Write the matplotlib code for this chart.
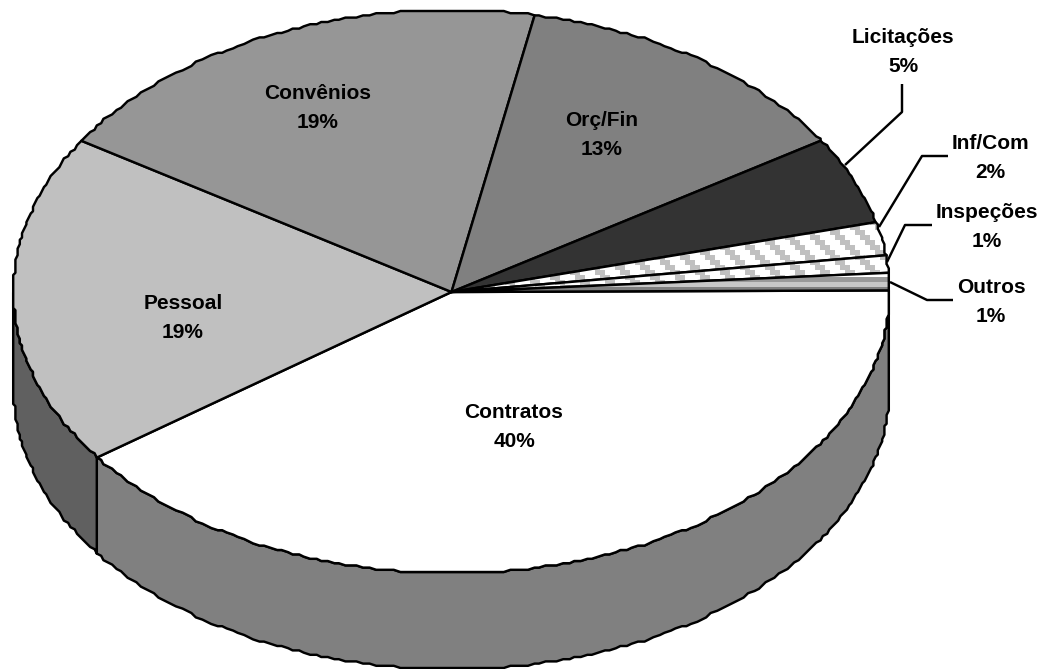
import matplotlib
matplotlib.use("Agg")
import matplotlib.pyplot as plt
from matplotlib.patches import Polygon
import numpy as np

plt.rcParams['font.family'] = ['Liberation Sans', 'DejaVu Sans']

labels = ["Contratos", "Pessoal", "Convênios", "Orç/Fin", "Licitações", "Inf/Com", "Inspeções", "Outros"]
values = [40, 19, 19, 13, 5, 2, 1, 1]

top_colors = ['#ffffff', '#c0c0c0', '#969696', '#808080', '#333333', 'bands', 'bands', 'stripes']
side_colors = ['#808080', '#606060', '#4b4b4b', '#404040', '#1a1a1a', '#808080', '#808080', '#808080']

label_pos = [(514, 427), (183, 318), (318, 108), (602, 135), (903, 52), (990, 158), (987, 227), (991, 302)]
leaders = {
    "Licitações": [(902, 84), (902, 112), (845, 165)],
    "Inf/Com": [(948, 156), (922, 156), (879, 227)],
    "Inspeções": [(932, 225), (905, 225), (887, 262)],
    "Outros": [(953, 300), (927, 300), (890, 282)],
}

W, H = 1051, 669
cx, cy = 451.5, 291.5
rx, ry = 438, 281.5
depth = 96
grain = 2.2   # the rim is drawn slightly stepped, like a low resolution export
line_w = 1.75


def rim(a0, a1, dy=0):
    # points along the ellipse between two angles (degrees, clockwise from east)
    n0 = int(np.ceil(a0 / 0.8))
    n1 = int(np.floor(a1 / 0.8))
    ang = [a0] + [k * 0.8 for k in range(n0, n1 + 1) if a0 < k * 0.8 < a1] + [a1]
    ang = np.radians(ang)
    x = cx + rx * np.cos(ang)
    y = cy + ry * np.sin(ang)
    x = np.round(x / grain) * grain
    y = np.round(y / grain) * grain + dy
    return np.column_stack([x, y])


yy, xx = np.mgrid[0:H, 0:W]
bands = np.ones((H, W))
bands[((xx // 5 - yy // 5) % 5) < 2] = 0.753
stripes = np.ones((H, W))
stripes[(yy >= 277) & (yy < 282)] = 0.6
stripes[(yy >= 282) & (yy < 287)] = 0.78
stripes[(yy >= 287) & (yy < 292)] = 0.5
patterns = {'bands': bands, 'stripes': stripes}

fig = plt.figure(figsize=(W / 100, H / 100), dpi=100)
ax = fig.add_axes([0, 0, 1, 1])

edges = np.cumsum([0] + values) / sum(values) * 360.0
z = 1

# side wall, only the front half of the disc shows
for i in range(len(values)):
    a0, a1 = edges[i], min(edges[i + 1], 180)
    if a0 >= 180:
        continue
    upper = rim(a0, a1)
    lower = rim(a0, a1, depth)
    ax.add_patch(Polygon(np.vstack([upper, lower[::-1]]), closed=True, facecolor=side_colors[i],
                         edgecolor='black', linewidth=line_w, joinstyle='round', zorder=z))
    z += 1

# top face
for i in range(len(values)):
    pts = np.vstack([[[cx, cy + 0.5]], rim(edges[i], edges[i + 1])])
    col = top_colors[i]
    if col in patterns:
        ax.add_patch(Polygon(pts, closed=True, facecolor='white', edgecolor='none', zorder=z))
        z += 1
        im = ax.imshow(patterns[col], cmap='gray', vmin=0, vmax=1, extent=(0, W, H, 0),
                       interpolation='nearest', aspect='auto', zorder=z)
        im.set_clip_path(Polygon(pts, closed=True, transform=ax.transData))
        z += 1
        col = 'none'
    ax.add_patch(Polygon(pts, closed=True, facecolor=col, edgecolor='black',
                         linewidth=line_w, joinstyle='round', zorder=z))
    z += 1

for name, pts in leaders.items():
    pts = np.array(pts)
    ax.plot(pts[:, 0], pts[:, 1], color='black', linewidth=line_w, solid_capstyle='butt', zorder=z)

for name, val, pos in zip(labels, values, label_pos):
    ax.text(pos[0], pos[1], "%s\n%d%%" % (name, val), ha='center', va='center', fontsize=15,
            fontweight='bold', color='black', linespacing=1.65, zorder=z + 1)

ax.set_xlim(0, W)
ax.set_ylim(H, 0)
ax.axis('off')

fig.savefig("out.png", dpi=100, facecolor='white')
